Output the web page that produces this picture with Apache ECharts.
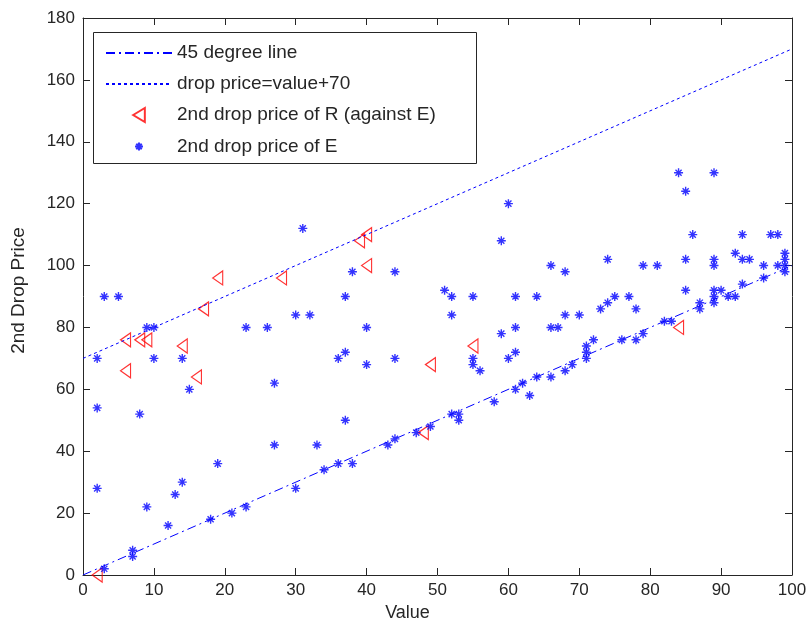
<!DOCTYPE html>
<html><head><meta charset="utf-8">
<script src="https://cdn.jsdelivr.net/npm/echarts@6/dist/echarts.min.js"></script>
<style>html,body{margin:0;padding:0;background:#fff}#c{width:812px;height:629px}</style>
</head><body><div id="c"></div>
<script>
// Reference lines (endpoints)
const line45 = [[0, 0], [100, 100]];
const line70 = [[0, 70], [100, 170]];

// 2nd drop price of R (against E)
const rValue = [2, 6, 6, 8, 9, 14, 16, 17, 19, 28, 39, 40, 40, 48, 49, 55, 84];
const rPrice = [0, 76, 66, 76, 76, 74, 64, 86, 96, 96, 108, 110, 100, 46, 68, 74, 80];

// 2nd drop price of E
const eValue = [3, 5, 9, 10, 23, 2, 10, 14, 15, 2, 8, 19, 2, 14, 13, 9, 12, 18, 21, 23, 7, 7, 3,
  31, 38, 44, 37, 30, 32, 26, 40, 37, 36, 40, 44, 27, 37, 27, 33, 34, 36, 38, 30, 43, 44, 47, 49,
  60, 59, 66, 68, 51, 52, 55, 61, 64, 52, 68, 70, 73, 74, 75, 59, 61, 66, 67, 61, 60, 55, 55, 56, 58,
  52, 53, 53, 61, 62, 63, 64, 66, 68, 69, 72, 71, 71, 71, 77, 78, 76, 78, 79, 82, 83,
  84, 89, 85, 86, 93, 97, 98, 74, 79, 81, 85, 89, 89, 92, 93, 94, 96, 96, 98, 99, 99, 99, 99, 93,
  89, 90, 89, 89, 91, 92, 87, 87, 85];
const ePrice = [90, 90, 80, 80, 80, 70, 70, 70, 60, 54, 52, 36, 28, 30, 26, 22, 16, 18, 20, 22, 8, 6, 2,
  112, 98, 98, 90, 84, 84, 80, 80, 72, 70, 68, 70, 62, 50, 42, 42, 34, 36, 36, 28, 42, 44, 46, 48,
  120, 108, 100, 98, 92, 90, 90, 90, 90, 84, 84, 84, 86, 88, 90, 78, 80, 80, 80, 72, 70, 70, 68, 66, 56,
  52, 52, 50, 60, 62, 58, 64, 64, 66, 68, 76, 74, 72, 70, 90, 86, 76, 76, 78, 82, 82,
  130, 130, 124, 110, 110, 110, 110, 102, 100, 100, 102, 102, 100, 104, 102, 102, 100, 96, 100, 104, 102, 100, 98, 94,
  92, 92, 90, 88, 90, 90, 88, 86, 92];

const xMin = 0, xMax = 100, xStep = 10;
const yMin = 0, yMax = 180, yStep = 20;

const zip = (a, b) => a.map((v, i) => [v, b[i]]);
const BLUE = 'rgb(0,0,255)', RED = 'rgb(255,0,0)', AX = '#262626';
const FONT = 'Liberation Sans, Arial, sans-serif';
const STAR = 'path://M5,0L5,10M0,5L10,5M1.6,1.6L8.4,8.4M1.6,8.4L8.4,1.6';
const TRI = 'path://M0,6L10,0L10,12Z';

const axisCommon = {
  axisLine: { show: true, onZero: false, lineStyle: { color: AX, width: 1 } },
  axisTick: { show: true, inside: true, length: 7, lineStyle: { color: AX } },
  splitLine: { show: false }
};
const legendText = { color: AX, fontSize: 19, fontFamily: FONT };

const chart = echarts.init(document.getElementById('c'), null, { renderer: 'canvas' });
chart.setOption({
  animation: false,
  backgroundColor: '#fff',
  grid: { left: 83, right: 20, top: 18, bottom: 54, containLabel: false },
  xAxis: [
    Object.assign({ type: 'value', min: xMin, max: xMax, interval: xStep, position: 'bottom',
      axisLabel: { color: AX, fontSize: 17, fontFamily: FONT, margin: 7 },
      name: 'Value', nameLocation: 'middle', nameGap: 28,
      nameTextStyle: { color: AX, fontSize: 18, fontFamily: FONT, padding: [0, 60, 0, 0] } }, axisCommon),
    Object.assign({ type: 'value', min: xMin, max: xMax, interval: xStep, position: 'top',
      axisLabel: { show: false } }, axisCommon)
  ],
  yAxis: [
    Object.assign({ type: 'value', min: yMin, max: yMax, interval: yStep, position: 'left',
      axisLabel: { color: AX, fontSize: 17, fontFamily: FONT, margin: 8 },
      name: '2nd Drop Price', nameLocation: 'middle', nameGap: 55,
      nameTextStyle: { color: AX, fontSize: 19, fontFamily: FONT, padding: [0, 0, 0, 12] } }, axisCommon),
    Object.assign({ type: 'value', min: yMin, max: yMax, interval: yStep, position: 'right',
      axisLabel: { show: false } }, axisCommon)
  ],
  graphic: [{
    type: 'rect', z: 3, left: 93, top: 32,
    shape: { width: 383, height: 131 },
    style: { fill: '#fff', stroke: AX, lineWidth: 1 }
  }],
  legend: [
    { data: [
        { name: '45 degree line', itemStyle: { opacity: 0 } },
        { name: 'drop price=value+70', itemStyle: { opacity: 0 } },
        { name: '2nd drop price of R (against E)' }
      ],
      orient: 'vertical', left: 105, top: 43.5, itemWidth: 66, itemHeight: 14, itemGap: 12,
      padding: 0, symbolKeepAspect: true, z: 5, selectedMode: false,
      textStyle: legendText },
    { data: ['2nd drop price of E'],
      orient: 'vertical', left: 134, top: 137, itemWidth: 66, itemHeight: 8, itemGap: 12,
      padding: 0, symbolKeepAspect: true, z: 5, selectedMode: false,
      textStyle: legendText }
  ],
  series: [
    { name: '45 degree line', type: 'line', data: line45, symbol: 'none',
      lineStyle: { color: BLUE, width: 1, type: [9, 4, 2, 4] }, itemStyle: { color: BLUE } },
    { name: 'drop price=value+70', type: 'line', data: line70, symbol: 'none',
      lineStyle: { color: BLUE, width: 1, type: [3, 3] }, itemStyle: { color: BLUE } },
    { name: '2nd drop price of R (against E)', type: 'scatter', data: zip(rValue, rPrice),
      symbol: TRI, symbolSize: [12, 14], symbolKeepAspect: true,
      itemStyle: { color: 'rgba(0,0,0,0)', borderColor: RED, borderWidth: 1.2 } },
    { name: '2nd drop price of E', type: 'scatter', data: zip(eValue, ePrice),
      symbol: STAR, symbolSize: 9, symbolKeepAspect: true,
      itemStyle: { color: 'rgba(0,0,0,0)', borderColor: BLUE, borderWidth: 1.4 } }
  ]
});
</script>
</body></html>
